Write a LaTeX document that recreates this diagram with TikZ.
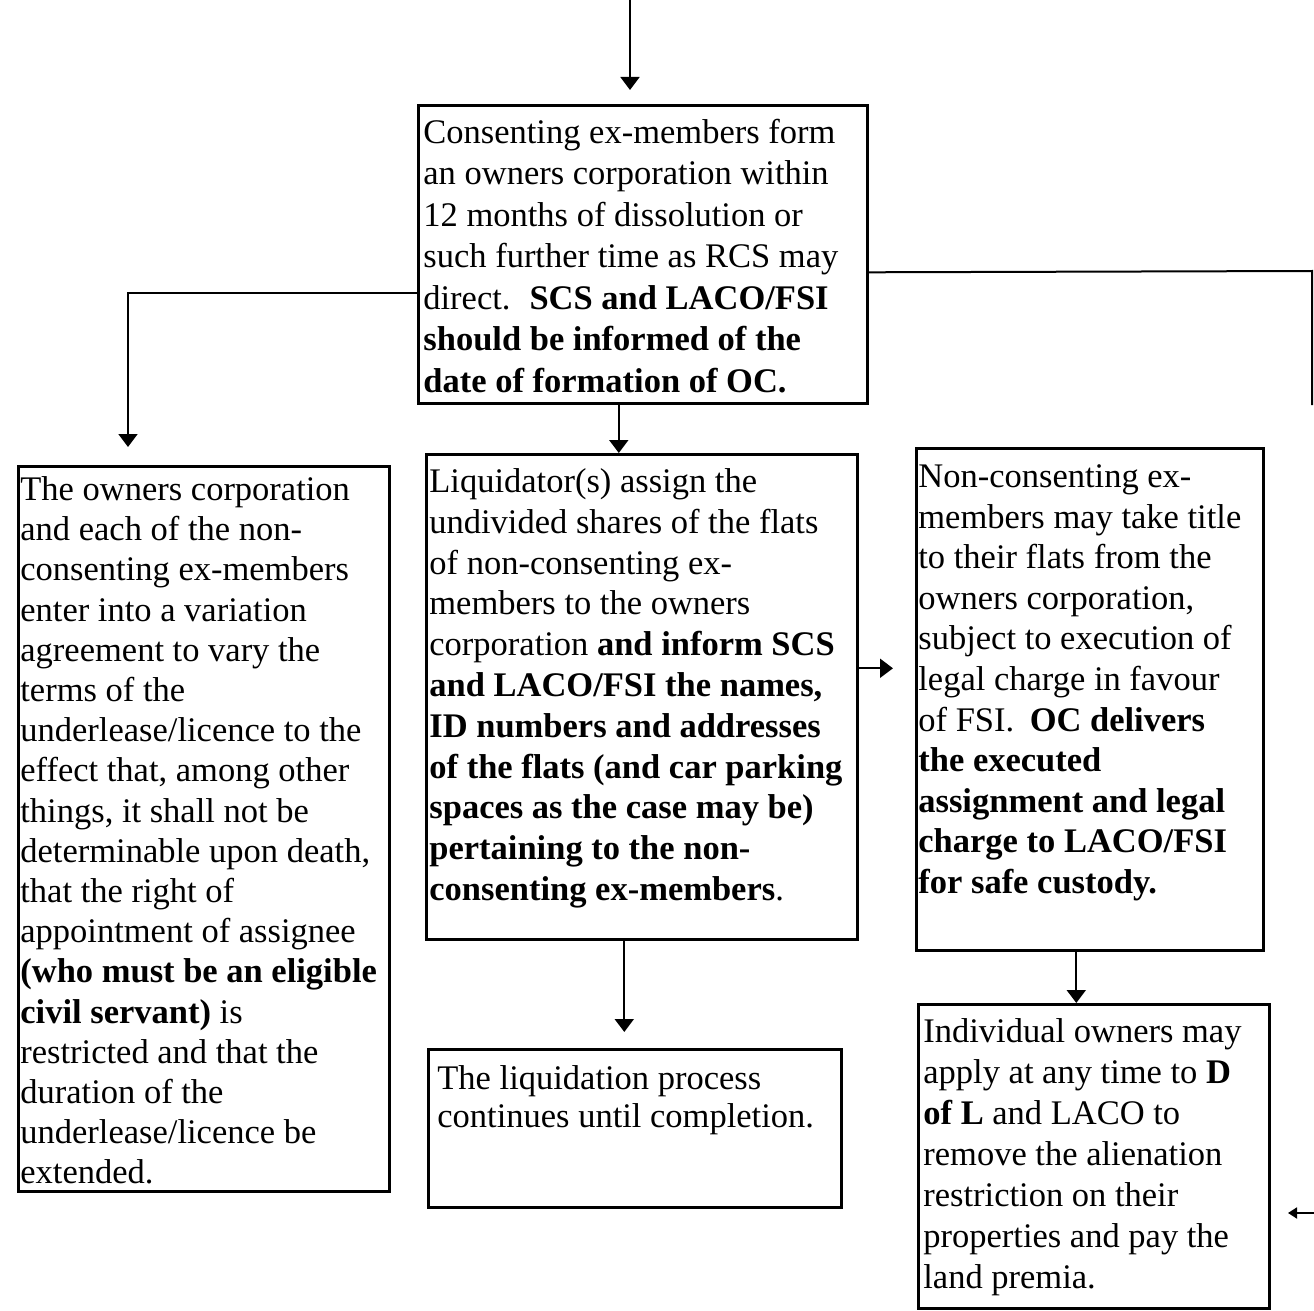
\documentclass[tikz,border=0pt]{standalone}
\usepackage{fontspec}
\setmainfont{Liberation Serif}
\usetikzlibrary{arrows.meta}
\begin{document}
\begin{tikzpicture}[x=0.5pt,y=-0.5pt,
  box/.style={draw, line width=1.3pt, inner sep=0pt, anchor=north west},
  txt/.style={font=\fontsize{17.25pt}{#1}\selectfont, align=left, inner sep=0pt, anchor=north west},
  arr/.style={line width=1pt, -{Triangle[width=9.5pt,length=6.5pt]}},
  conn/.style={line width=1pt},
  smallarr/.style={line width=0.9pt, -{Triangle[width=5.5pt,length=4.5pt]}}]
\useasboundingbox (0,0) rectangle (1314,1311);

% boxes
\node[box, minimum width=224.5pt, minimum height=149pt] (top) at (417,104) {};
\node[box, minimum width=185.5pt, minimum height=362.5pt] (lbox) at (17,465) {};
\node[box, minimum width=215.5pt, minimum height=242.5pt] (mbox) at (425,453) {};
\node[box, minimum width=173.5pt, minimum height=251pt] (rbox) at (915,447) {};
\node[box, minimum width=206.5pt, minimum height=79pt] (bmbox) at (427,1048) {};
\node[box, minimum width=175.5pt, minimum height=152pt] (brbox) at (917,1003) {};

% texts
\node[txt=20.75pt] (toptxt) at (423,115) {\rule{0pt}{14pt}Consenting ex-members form\\
an owners corporation within\\
12 months of dissolution or\\
such further time as RCS may\\
direct.\hspace{0.55em}\textbf{SCS and LACO/FSI}\\
\textbf{should be informed of the}\\
\textbf{date of formation of OC.}};

\node[txt=20.1pt] (ltxt) at (20,472) {\rule{0pt}{14pt}The owners corporation\\
and each of the non-\\
consenting ex-members\\
enter into a variation\\
agreement to vary the\\
terms of the\\
underlease/licence to the\\
effect that, among other\\
things, it shall not be\\
determinable upon death,\\
that the right of\\
appointment of assignee\\
\textbf{(who must be an eligible}\\
\textbf{civil servant)} is\\
restricted and that the\\
duration of the\\
underlease/licence be\\
extended.};

\node[txt=20.4pt] (mtxt) at (429,464) {\rule{0pt}{14pt}Liquidator(s) assign the\\
undivided shares of the flats\\
of non-consenting ex-\\
members to the owners\\
corporation \textbf{and inform SCS}\\
\textbf{and LACO/FSI the names,}\\
\textbf{ID numbers and addresses}\\
\textbf{of the flats (and car parking}\\
\textbf{spaces as the case may be)}\\
\textbf{pertaining to the non-}\\
\textbf{consenting ex-members}.};

\node[txt=20.3pt] (rtxt) at (918,459) {\rule{0pt}{14pt}Non-consenting ex-\\
members may take title\\
to their flats from the\\
owners corporation,\\
subject to execution of\\
legal charge in favour\\
of FSI.\hspace{0.45em}\textbf{OC delivers}\\
\textbf{the executed}\\
\textbf{assignment and legal}\\
\textbf{charge to LACO/FSI}\\
\textbf{for safe custody.}};

\node[txt=19.25pt] (bmtxt) at (437,1061) {\rule{0pt}{14pt}The liquidation process\\
continues until completion.};

\node[txt=20.5pt] (brtxt) at (923,1014) {\rule{0pt}{14pt}Individual owners may\\
apply at any time to \textbf{D}\\
\textbf{of L} and LACO to\\
remove the alienation\\
restriction on their\\
properties and pay the\\
land premia.};

% connectors
\coordinate (start) at (630,0);
\draw[arr, shorten >=7pt] (start) -- (start |- top.north);

\coordinate (tb) at ([xshift=-12pt]top.south);
\draw[arr] (tb) -- (tb |- mbox.north);

\coordinate (tl) at ([yshift=-19.5pt]top.west);
\draw[arr, shorten >=9pt] (tl) -| ([xshift=55.5pt]lbox.north west);

\coordinate (tr) at ([yshift=-9pt]top.east);
\coordinate (rc1) at (1312,271);
\coordinate (rc2) at (1312,405);
\draw[conn] (tr) -- (rc1) -- (rc2);

\coordinate (mr) at ([yshift=14.25pt]mbox.east);
\draw[arr, shorten >=11pt] (mr) -- (mr -| rbox.west);

\coordinate (mb) at ([xshift=-8.75pt]mbox.south);
\draw[arr, shorten >=8pt] (mb) -- (mb |- bmbox.north);

\coordinate (rb) at ([xshift=-6.75pt]rbox.south);
\draw[arr] (rb) -- (rb |- brbox.north);

\coordinate (sa1) at (1314,1213);
\coordinate (sa2) at (1288,1213);
\draw[smallarr] (sa1) -- (sa2);
\end{tikzpicture}
\end{document}
